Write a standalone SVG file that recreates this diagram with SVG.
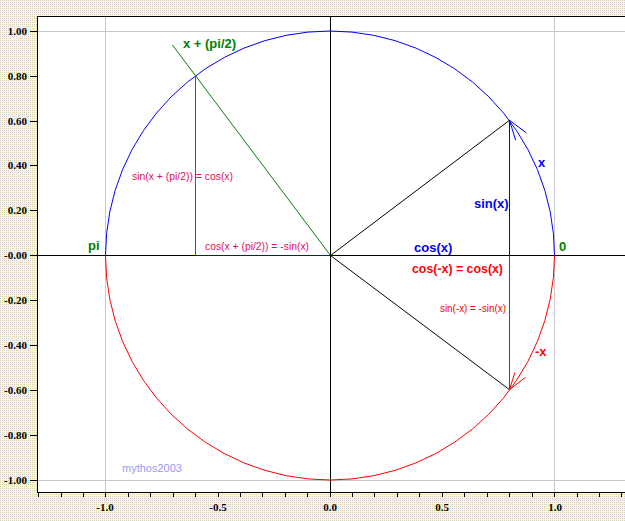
<svg xmlns="http://www.w3.org/2000/svg" width="625" height="521" viewBox="0 0 625 521">
<style>
.bg{fill:url(#dots)}
.grid{stroke:#c8c8c8;stroke-width:1;fill:none}
.ax{stroke:#000;stroke-width:1;fill:none}
.tick{stroke:#000;stroke-width:1}
.yl{font-family:"Liberation Serif",serif;font-weight:bold;font-size:11px;fill:#000;text-anchor:end}
.xl{font-family:"Liberation Serif",serif;font-weight:bold;font-size:11px;fill:#000;text-anchor:middle}
.b{font-family:"Liberation Sans",Arial,sans-serif;font-weight:bold;font-size:13px}
.n{font-family:"Liberation Sans",Arial,sans-serif;font-size:11px}
</style>
<defs>
<pattern id="dots" width="2" height="2" patternUnits="userSpaceOnUse">
<rect width="2" height="2" fill="#fcfcc4"/>
<rect width="1" height="1" fill="#d4d4c0"/>
</pattern>
</defs>
<rect class="bg" x="0" y="0" width="625" height="521"/>
<rect x="37" y="16" width="588" height="477" fill="#fff"/>
<g id="grid">
<line class="grid" x1="105.5" y1="16" x2="105.5" y2="493"/>
<line class="grid" x1="554.5" y1="16" x2="554.5" y2="493"/>
<line class="grid" x1="37" y1="31.5" x2="625" y2="31.5"/>
<line class="grid" x1="37" y1="480.5" x2="625" y2="480.5"/>
</g>
<g id="frame">
<line class="ax" x1="37" y1="16.5" x2="625" y2="16.5"/>
<line class="ax" x1="37.5" y1="16" x2="37.5" y2="493"/>
<line class="ax" x1="37" y1="492.5" x2="625" y2="492.5"/>
<g class="tick">
<line x1="30" y1="31.5" x2="37" y2="31.5"/>
<line x1="30" y1="76.5" x2="37" y2="76.5"/>
<line x1="30" y1="121.5" x2="37" y2="121.5"/>
<line x1="30" y1="165.5" x2="37" y2="165.5"/>
<line x1="30" y1="210.5" x2="37" y2="210.5"/>
<line x1="30" y1="255.5" x2="37" y2="255.5"/>
<line x1="30" y1="300.5" x2="37" y2="300.5"/>
<line x1="30" y1="345.5" x2="37" y2="345.5"/>
<line x1="30" y1="390.5" x2="37" y2="390.5"/>
<line x1="30" y1="435.5" x2="37" y2="435.5"/>
<line x1="30" y1="480.5" x2="37" y2="480.5"/>
</g>
<g class="tick">
<line x1="38.5" y1="493" x2="38.5" y2="497"/>
<line x1="61.5" y1="493" x2="61.5" y2="497"/>
<line x1="83.5" y1="493" x2="83.5" y2="497"/>
<line x1="105.5" y1="493" x2="105.5" y2="497"/>
<line x1="128.5" y1="493" x2="128.5" y2="497"/>
<line x1="150.5" y1="493" x2="150.5" y2="497"/>
<line x1="173.5" y1="493" x2="173.5" y2="497"/>
<line x1="195.5" y1="493" x2="195.5" y2="497"/>
<line x1="218.5" y1="493" x2="218.5" y2="497"/>
<line x1="240.5" y1="493" x2="240.5" y2="497"/>
<line x1="262.5" y1="493" x2="262.5" y2="497"/>
<line x1="285.5" y1="493" x2="285.5" y2="497"/>
<line x1="307.5" y1="493" x2="307.5" y2="497"/>
<line x1="330.5" y1="493" x2="330.5" y2="497"/>
<line x1="352.5" y1="493" x2="352.5" y2="497"/>
<line x1="374.5" y1="493" x2="374.5" y2="497"/>
<line x1="397.5" y1="493" x2="397.5" y2="497"/>
<line x1="419.5" y1="493" x2="419.5" y2="497"/>
<line x1="442.5" y1="493" x2="442.5" y2="497"/>
<line x1="464.5" y1="493" x2="464.5" y2="497"/>
<line x1="487.5" y1="493" x2="487.5" y2="497"/>
<line x1="509.5" y1="493" x2="509.5" y2="497"/>
<line x1="532.5" y1="493" x2="532.5" y2="497"/>
<line x1="554.5" y1="493" x2="554.5" y2="497"/>
<line x1="577.5" y1="493" x2="577.5" y2="497"/>
<line x1="599.5" y1="493" x2="599.5" y2="497"/>
<line x1="621.5" y1="493" x2="621.5" y2="497"/>
</g>
<g id="ylabels">
<text class="yl" x="27" y="35">1.00</text>
<text class="yl" x="27" y="80">0.80</text>
<text class="yl" x="27" y="125">0.60</text>
<text class="yl" x="27" y="169">0.40</text>
<text class="yl" x="27" y="214">0.20</text>
<text class="yl" x="27" y="259">-0.00</text>
<text class="yl" x="27" y="304">-0.20</text>
<text class="yl" x="27" y="349">-0.40</text>
<text class="yl" x="27" y="394">-0.60</text>
<text class="yl" x="27" y="439">-0.80</text>
<text class="yl" x="27" y="484">-1.00</text>
</g>
<g id="xlabels">
<text class="xl" x="105" y="511">-1.0</text>
<text class="xl" x="218" y="511">-0.5</text>
<text class="xl" x="330" y="511">0.0</text>
<text class="xl" x="442" y="511">0.5</text>
<text class="xl" x="555" y="511">1.0</text>
</g>
</g>
<g id="axes">
<line class="ax" x1="330.5" y1="16" x2="330.5" y2="493"/>
<line class="ax" x1="37" y1="255.5" x2="625" y2="255.5"/>
</g>
<g id="circle" fill="none" stroke-width="1">
<path id="upper-arc" d="M554.5,255.5 A224.5,224.5 0 0 0 105.5,255.5" stroke="#0000ff"/>
<path id="lower-arc" d="M105.5,255.5 A224.5,224.5 0 0 0 554.5,255.5" stroke="#ff0000"/>
</g>
<g id="connectors" fill="none" stroke-width="1">
<line id="radius-x" x1="330.5" y1="255.5" x2="509.5" y2="120.3" stroke="#000"/>
<line id="radius-minus-x" x1="330.5" y1="255.5" x2="509.5" y2="389.7" stroke="#000"/>
<line id="radius-x-pi2" x1="330.5" y1="255.5" x2="172.4" y2="44.9" stroke="#008000"/>
<line id="sin-x" x1="509.5" y1="120.3" x2="509.5" y2="255.5" stroke="#0000ff"/>
<line id="sin-minus-x" x1="509.5" y1="255.5" x2="509.5" y2="389.7" stroke="#ff0000"/>
<line id="sin-x-pi2" x1="195.5" y1="75.4" x2="195.5" y2="255.5" stroke="#e0105a"/>
<line id="cos-x-pi2" x1="195.5" y1="255.5" x2="330.5" y2="255.5" stroke="#0000ff"/>
<polyline id="arrow-x" points="526.4,132.9 509.5,120.3 515.7,140.4" stroke="#0000ff"/>
<polyline id="arrow-minus-x" points="525.4,377.3 509.5,389.7 514.9,372.5" stroke="#ff0000"/>
</g>
<g id="labels">
<text class="b" x="183" y="48" fill="#008000">x + (pi/2)</text>
<text class="b" x="474" y="208" fill="#0000ff">sin(x)</text>
<text class="b" x="538" y="167" fill="#0000ff">x</text>
<text class="b" x="414" y="252" fill="#0000ff">cos(x)</text>
<text class="b" x="559" y="251" fill="#008000">0</text>
<text class="b" x="88" y="250" fill="#008000">pi</text>
<text class="b" x="412" y="273" fill="#ff0000" textLength="91" lengthAdjust="spacingAndGlyphs">cos(-x) = cos(x)</text>
<text class="n" x="440" y="312" fill="#ff0000" textLength="66" lengthAdjust="spacingAndGlyphs">sin(-x) = -sin(x)</text>
<text class="b" x="535" y="356" fill="#ff0000">-x</text>
<text class="n" x="132" y="180" fill="#e0105a" textLength="101" lengthAdjust="spacingAndGlyphs">sin(x + (pi/2)) = cos(x)</text>
<text class="n" x="205" y="250" fill="#e0105a" textLength="104" lengthAdjust="spacingAndGlyphs">cos(x + (pi/2)) = -sin(x)</text>
<text class="n" x="122" y="472" fill="#9a9af0" font-size="12">mythos2003</text>
</g>
</svg>
